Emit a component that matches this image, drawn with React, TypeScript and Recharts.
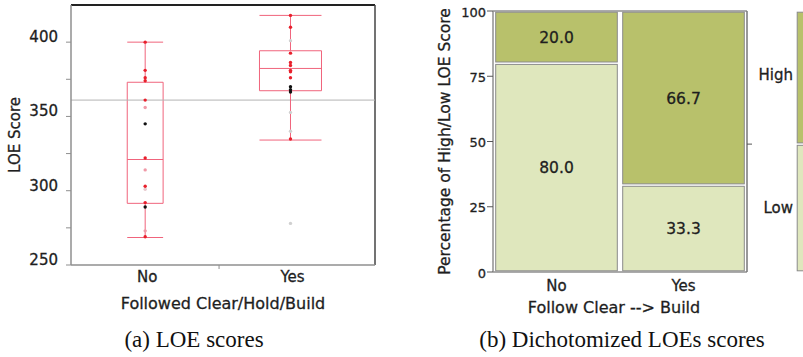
import React from "react";
import {
  Bar,
  BarChart,
  ComposedChart,
  Label,
  LabelList,
  ReferenceArea,
  ReferenceLine,
  Scatter,
  XAxis,
  YAxis,
} from "recharts";

const FONT = "DejaVu Sans";
const INK = "#1e1e1e";
const AXIS = "#8f8f8f";
const BOX = "#f0647c";

// (a) LOE scores by group (JMP places groups by sample size, so x is numeric)
const groups = ["No", "Yes"];
const groupPos = [24.4, 72.2];
const groupSplit = 48.7;
const whiskerLow = [268.5, 334.1];
const q1 = [291.5, 367.3];
const median = [321.0, 382.3];
const q3 = [373.0, 394.2];
const whiskerHigh = [400.0, 418.0];
const grandMean = 361;
const loeTicks = [250, 275, 300, 325, 350, 375, 400];

const noRed = [400, 381, 376, 374, 361, 322, 303, 292, 269];
const noPink = [356, 314, 273];
const noBlack = [345, 289];
const noGrey = [301];
const yesRed = [418, 410, 392.6, 386.3, 384.3, 381, 380, 376, 334.8];
const yesBlack = [370, 368, 366.4];
const yesGrey = [401, 352.7, 340, 278];

// (b) mosaic of high/low LOE score
const followCats = ["No", "Yes"];
const lowPct = [80.0, 33.3];
const highPct = [20.0, 66.7];
const allLow = 49;
const allHigh = 51;
const pctTicks = [0, 25, 50, 75, 100];

const BOX_HALF = [5.9, 10.2];

// a hair of stroke so DejaVu looks as heavy as the JMP export
const heavy = { stroke: INK, strokeWidth: 0.3 };

const pts = (i: number, vals: number[]) => vals.map((y) => ({ x: groupPos[i], y }));

const dot = (fill: string, r = 1.7) => (p: any) => (
  <circle cx={p.cx} cy={p.cy} r={r} fill={fill} />
);

const LoeTick = (p: any) => {
  const v = p.payload.value;
  if (v % 50 !== 0) return <g />;
  return (
    <text x={p.x} y={p.y - 5} textAnchor="end" dominantBaseline="central" fontSize={15} fontFamily={FONT} fill={INK} {...heavy}>
      {v}
    </text>
  );
};

const GroupTick = (p: any) => {
  const v = p.payload.value;
  const i = groupPos.indexOf(v);
  if (i < 0) {
    return <line x1={p.x} x2={p.x} y1={p.y - 6} y2={p.y - 2} stroke={AXIS} />;
  }
  return (
    <text x={p.x + 2} y={p.y + 6} textAnchor="middle" dominantBaseline="central" fontSize={15} fontFamily={FONT} fill={INK} {...heavy}>
      {groups[i]}
    </text>
  );
};

const PctTick = (p: any) => (
  <text x={p.x} y={p.y + 1} textAnchor="end" dominantBaseline="central" fontSize={13} fontFamily={FONT} fill={INK} {...heavy}>
    {p.payload.value}
  </text>
);

const MarginTick = (p: any) => {
  const v = p.payload.value;
  if (v === allLow) {
    return <line x1={p.x} x2={p.x + 5} y1={p.y} y2={p.y} stroke="#555" />;
  }
  return (
    <text x={p.x + 46} y={p.y + (v > allLow ? -3 : 0)} textAnchor="end" dominantBaseline="central" fontSize={15} fontFamily={FONT} fill={INK} {...heavy}>
      {v > allLow ? "High" : "Low"}
    </text>
  );
};

const Cell3D = (p: any) => (
  <rect
    x={p.x + 1.2}
    y={p.y + 1.2}
    width={Math.max(p.width - 2.4, 0)}
    height={Math.max(p.height - 2.4, 0)}
    fill={p.fill}
    stroke="#8a8a8a"
    strokeWidth={1}
  />
);

function LoeBoxPlot() {
  return (
    <ComposedChart width={380} height={320} margin={{ top: 5, right: 5, bottom: 0, left: 11 }}>
      <XAxis
        type="number"
        dataKey="x"
        domain={[0, 100]}
        ticks={[groupPos[0], groupSplit, groupPos[1]]}
        interval={0}
        tick={GroupTick}
        tickLine={false}
        tickSize={4}
        tickMargin={2}
        height={55}
        allowDataOverflow
        axisLine={{ stroke: AXIS, strokeWidth: 1.5 }}
      >
        <Label
          content={(p: any) => (
            <text
              x={p.viewBox.x + p.viewBox.width / 2}
              y={p.viewBox.y + 38}
              textAnchor="middle"
              dominantBaseline="central"
              fontSize={16}
              fontFamily={FONT}
              fill={INK}
              {...heavy}
            >
              Followed Clear/Hold/Build
            </text>
          )}
        />
      </XAxis>
      <YAxis
        type="number"
        dataKey="y"
        domain={[250, 425]}
        ticks={loeTicks}
        interval={0}
        width={60}
        tickSize={5}
        tickMargin={8}
        tick={LoeTick}
        allowDataOverflow
        tickLine={{ stroke: AXIS }}
        axisLine={{ stroke: AXIS, strokeWidth: 1.5 }}
      >
        <Label
          content={(p: any) => {
            const cx = p.viewBox.x + 4;
            const cy = p.viewBox.y + p.viewBox.height / 2;
            return (
              <text
                x={cx}
                y={cy}
                transform={`rotate(-90 ${cx} ${cy})`}
                textAnchor="middle"
                dominantBaseline="central"
                fontSize={15}
                fontFamily={FONT}
                fill={INK}
                {...heavy}
              >
                LOE Score
              </text>
            );
          }}
        />
      </YAxis>

      <ReferenceLine y={425} stroke="#222" strokeWidth={2} />
      <ReferenceLine x={100} stroke="#444" strokeWidth={1.5} />
      <ReferenceLine y={grandMean} stroke="#b4b4b4" strokeWidth={1} />

      {groups.map((g, i) => {
        const c = groupPos[i];
        const h = BOX_HALF[i];
        return (
          <React.Fragment key={g}>
            <ReferenceArea x1={c - h} x2={c + h} y1={q1[i]} y2={q3[i]} fill="none" fillOpacity={0} stroke={BOX} strokeOpacity={1} strokeWidth={1} />
            <ReferenceLine segment={[{ x: c - h, y: median[i] }, { x: c + h, y: median[i] }]} stroke={BOX} />
            <ReferenceLine segment={[{ x: c, y: q3[i] }, { x: c, y: whiskerHigh[i] }]} stroke={BOX} />
            <ReferenceLine segment={[{ x: c, y: whiskerLow[i] }, { x: c, y: q1[i] }]} stroke={BOX} />
            <ReferenceLine segment={[{ x: c - h, y: whiskerHigh[i] }, { x: c + h, y: whiskerHigh[i] }]} stroke={BOX} />
            <ReferenceLine segment={[{ x: c - h, y: whiskerLow[i] }, { x: c + h, y: whiskerLow[i] }]} stroke={BOX} />
          </React.Fragment>
        );
      })}

      <Scatter data={pts(0, noGrey)} shape={dot("#e6c8cc")} isAnimationActive={false} />
      <Scatter data={pts(1, yesGrey)} shape={dot("#d0d0d0")} isAnimationActive={false} />
      <Scatter data={pts(0, noPink)} shape={dot("#f09aa8")} isAnimationActive={false} />
      <Scatter data={pts(0, noRed)} shape={dot("#e8202c")} isAnimationActive={false} />
      <Scatter data={pts(1, yesRed)} shape={dot("#e8202c")} isAnimationActive={false} />
      <Scatter data={pts(0, noBlack)} shape={dot("#111")} isAnimationActive={false} />
      <Scatter data={pts(1, yesBlack)} shape={dot("#111")} isAnimationActive={false} />
    </ComposedChart>
  );
}

const mosaicData = followCats.map((c, i) => ({ cat: c, low: lowPct[i], high: highPct[i] }));
const marginData = [{ cat: "All", low: allLow, high: allHigh }];

function Mosaic() {
  return (
    <BarChart width={397} height={322} data={mosaicData} margin={{ top: 11, right: 0, bottom: 0, left: 0 }} barCategoryGap={1.5}>
      <XAxis
        dataKey="cat"
        height={50}
        tickLine={false}
        tickSize={6}
        tickMargin={2}
        axisLine={{ stroke: AXIS, strokeWidth: 1.5 }}
        tick={{ fontSize: 15, fontFamily: FONT, fill: INK, ...heavy }}
      >
        <Label
          content={(p: any) => (
            <text
              x={p.viewBox.x + p.viewBox.width / 2 - 6}
              y={p.viewBox.y + 35}
              textAnchor="middle"
              dominantBaseline="central"
              fontSize={16}
              fontFamily={FONT}
              fill={INK}
              {...heavy}
            >
              {"Follow Clear --> Build"}
            </text>
          )}
        />
      </XAxis>
      <YAxis
        yAxisId="l"
        domain={[0, 100]}
        ticks={pctTicks}
        interval={0}
        width={93}
        tickSize={6}
        tickMargin={1}
        allowDataOverflow
        tickLine={{ stroke: "#555" }}
        axisLine={{ stroke: AXIS, strokeWidth: 1.5 }}
        tick={PctTick}
      >
        <Label
          content={(p: any) => {
            const cx = p.viewBox.x + 45;
            const cy = p.viewBox.y + p.viewBox.height / 2;
            return (
              <text
                x={cx}
                y={cy}
                transform={`rotate(-90 ${cx} ${cy})`}
                textAnchor="middle"
                dominantBaseline="central"
                fontSize={15.5}
                fontFamily={FONT}
                fill={INK}
                {...heavy}
              >
                Percentage of High/Low LOE Score
              </text>
            );
          }}
        />
      </YAxis>
      <YAxis
        yAxisId="r"
        orientation="right"
        type="number"
        domain={[0, 100]}
        allowDataOverflow
        ticks={[allLow / 2, allLow, allLow + allHigh / 2]}
        interval={0}
        width={50}
        tickSize={0}
        tickMargin={0}
        tickLine={false}
        axisLine={{ stroke: "#777", strokeWidth: 1.5 }}
        tick={MarginTick}
      />
      <ReferenceLine yAxisId="l" y={100} stroke={AXIS} strokeWidth={1.5} />
      <ReferenceLine yAxisId="r" y={0} stroke="none" />
      <Bar yAxisId="l" dataKey="low" stackId="s" fill="#dfe7bd" shape={Cell3D} isAnimationActive={false}>
        <LabelList dataKey="low" position="center" formatter={(v: any) => Number(v).toFixed(1)} fill={INK} fontSize={15.5} fontFamily={FONT} {...heavy} />
      </Bar>
      <Bar yAxisId="l" dataKey="high" stackId="s" fill="#b8c16b" shape={Cell3D} isAnimationActive={false}>
        <LabelList dataKey="high" position="center" formatter={(v: any) => Number(v).toFixed(1)} fill={INK} fontSize={15.5} fontFamily={FONT} {...heavy} />
      </Bar>
    </BarChart>
  );
}

function MarginBar() {
  return (
    <BarChart width={60} height={322} data={marginData} margin={{ top: 11, right: 0, bottom: 50, left: 0 }} barCategoryGap={1}>
      <XAxis dataKey="cat" hide />
      <YAxis domain={[0, 100]} allowDataOverflow hide />
      <Bar dataKey="low" stackId="s" fill="#dfe7bd" shape={Cell3D} isAnimationActive={false} />
      <Bar dataKey="high" stackId="s" fill="#b8c16b" shape={Cell3D} isAnimationActive={false} />
    </BarChart>
  );
}

const captionStyle: React.CSSProperties = {
  position: "absolute",
  top: 327,
  width: 360,
  textAlign: "center",
  fontFamily: "Liberation Serif",
  fontSize: 23,
  color: "#111",
  lineHeight: "normal",
  whiteSpace: "nowrap",
};

export default function App() {
  return (
    <div style={{ position: "absolute", left: 0, top: 0, width: 803, height: 357, overflow: "hidden", background: "#fff" }}>
      <div style={{ position: "absolute", left: 0, top: 0 }}>
        <LoeBoxPlot />
      </div>
      <div style={{ position: "absolute", left: 400, top: 0 }}>
        <Mosaic />
      </div>
      <div style={{ position: "absolute", left: 795, top: 0 }}>
        <MarginBar />
      </div>
      <div style={{ ...captionStyle, left: 194 - 180 }}>(a) LOE scores</div>
      <div style={{ ...captionStyle, left: 622 - 180 }}>(b) Dichotomized LOEs scores</div>
    </div>
  );
}
